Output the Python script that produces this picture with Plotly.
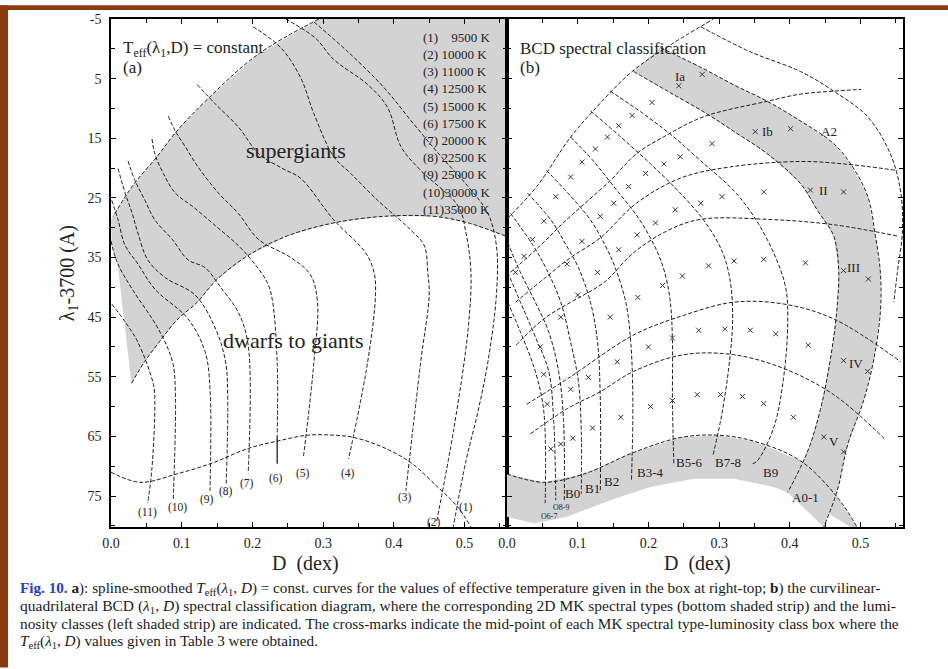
import plotly.graph_objects as go

W, H = 948, 669
SERIF = "Liberation Serif"
GRAY = "#d3d3d3"
INK = "#1e1e1e"
DASH = "4px,2px"

# ---------------------------------------------------------------------------
# Panel (a): spline-smoothed T_eff(lambda1, D) = const curves
# every point is (D [dex], lambda1 - 3700 [A])
# ---------------------------------------------------------------------------
teff_values = [9500, 10000, 11000, 12500, 15000, 17500, 20000, 22500, 25000, 30000, 35000]

teff_01 = [(0.287, -4.5), (0.335, 0.5), (0.386, 6.5), (0.428, 12.6), (0.467, 18.1), (0.505, 23.1),
           (0.533, 27.6), (0.545, 33.0), (0.545, 41.3), (0.533, 52.5), (0.519, 60.8), (0.502, 69.1),
           (0.484, 80.2)]
teff_02 = [(0.247, -5.0), (0.289, -1.8), (0.315, 1.8), (0.363, 6.0), (0.391, 9.8), (0.410, 16.4),
           (0.438, 20.4), (0.491, 26.4), (0.502, 30.9), (0.509, 37.5), (0.505, 47.0), (0.485, 63.6),
           (0.460, 79.6)]
teff_03 = [(0.201, -3.7), (0.240, -0.2), (0.268, 4.8), (0.287, 10.9), (0.315, 18.1), (0.339, 20.9),
           (0.377, 25.4), (0.424, 30.4), (0.443, 33.0), (0.448, 37.5), (0.450, 41.3), (0.438, 52.5),
           (0.417, 74.1)]
teff_04 = [(0.122, 6.0), (0.148, 9.3), (0.180, 13.1), (0.209, 17.6), (0.243, 20.1), (0.268, 21.7),
           (0.315, 28.7), (0.360, 34.2), (0.372, 37.5), (0.374, 41.3), (0.363, 52.5), (0.336, 68.8)]
teff_05 = [(0.081, 11.3), (0.091, 13.8), (0.105, 16.4), (0.123, 19.8), (0.152, 24.2), (0.180, 27.6),
           (0.209, 32.0), (0.254, 35.0), (0.282, 37.9), (0.292, 42.5), (0.287, 52.5), (0.272, 68.6)]
teff_06 = [(0.058, 15.1), (0.062, 17.6), (0.074, 20.9), (0.091, 24.2), (0.115, 26.4), (0.148, 29.7),
           (0.180, 33.0), (0.204, 36.2), (0.221, 39.2), (0.228, 42.0), (0.235, 52.5), (0.235, 65.0)]
# the lowest stretch of curve (6) is printed as a solid stroke
teff_06_solid = [(0.235, 65.0), (0.235, 69.6)]
teff_07 = [(0.024, 18.8), (0.034, 22.1), (0.048, 25.4), (0.062, 28.7), (0.087, 32.0), (0.109, 35.4),
           (0.133, 36.7), (0.155, 40.0), (0.180, 44.2), (0.194, 49.7), (0.194, 71.2)]
teff_08 = [(0.010, 20.1), (0.020, 24.2), (0.030, 27.6), (0.038, 30.9), (0.052, 35.4), (0.077, 38.4),
           (0.119, 41.3), (0.148, 47.0), (0.162, 52.5), (0.165, 58.0), (0.163, 72.9)]
teff_09 = [(0.001, 25.4), (0.010, 28.7), (0.020, 33.0), (0.037, 35.9), (0.062, 40.3), (0.109, 45.3),
           (0.133, 50.8), (0.140, 57.0), (0.140, 74.1)]
teff_10 = [(0.000, 32.2), (0.009, 35.9), (0.030, 40.3), (0.067, 47.0), (0.087, 52.5), (0.091, 57.5),
           (0.088, 75.7)]
teff_11 = [(0.001, 42.8), (0.020, 45.8), (0.038, 49.2), (0.060, 56.3), (0.062, 59.1), (0.058, 70.2),
           (0.052, 76.2)]
teff_curves = [teff_01, teff_02, teff_03, teff_04, teff_05, teff_06,
               teff_07, teff_08, teff_09, teff_10, teff_11]

# positions of the (n) tags at the lower end of each curve
teff_tags = [(0.502, 76.9), (0.457, 79.4), (0.416, 75.2), (0.335, 71.2), (0.272, 71.2), (0.233, 72.1),
             (0.193, 72.9), (0.163, 74.2), (0.136, 75.6), (0.094, 76.9), (0.052, 77.7)]

# supergiant band of panel (a)
sg_upper = [(0.294, -5.0), (0.207, 1.0), (0.136, 8.5), (0.093, 13.8), (0.065, 18.1), (0.031, 22.9),
            (0.003, 28.1)]
sg_left_edge = [(0.000, 28.6), (0.001, 33.0), (0.009, 35.9), (0.029, 56.1)]
sg_lower = [(0.029, 56.1), (0.048, 52.4), (0.070, 48.9), (0.093, 45.5), (0.122, 42.5), (0.148, 38.9),
            (0.192, 34.8), (0.249, 31.4), (0.315, 29.2), (0.386, 28.1), (0.457, 28.1), (0.505, 29.2),
            (0.560, 31.5)]

# lower envelope (main-sequence limit) in panel (a)
zams_a = [(0.000, 71.0), (0.041, 72.7), (0.093, 71.3), (0.145, 69.4), (0.192, 67.1), (0.235, 65.8),
          (0.278, 64.8), (0.315, 64.8), (0.344, 65.2), (0.386, 66.9), (0.424, 69.4), (0.462, 73.5),
          (0.490, 76.8), (0.509, 80.2)]

# ---------------------------------------------------------------------------
# Panel (b): BCD curvilinear-quadrilateral classification grid
# ---------------------------------------------------------------------------
zams_b = [(0.000, 71.3), (0.052, 72.7), (0.109, 71.3), (0.179, 67.7), (0.245, 65.2), (0.297, 64.8),
          (0.349, 65.8), (0.415, 69.1), (0.467, 75.2), (0.495, 80.2)]
strip_lower = [(0.000, 78.5), (0.038, 79.6), (0.085, 78.5), (0.146, 75.7), (0.203, 73.5), (0.264, 72.1),
               (0.321, 72.1), (0.377, 73.5), (0.425, 75.7), (0.462, 78.5), (0.486, 80.2)]

# spectral-type boundaries (left to right)
sp_o_left = [(0.001, 42.5), (0.019, 47.5), (0.040, 54.1), (0.052, 60.8), (0.054, 76.2)]
sp_o67_o89 = [(0.001, 37.5), (0.019, 42.5), (0.040, 48.3), (0.059, 54.1), (0.066, 62.4), (0.069, 75.7)]
sp_o89_b0 = [(0.001, 32.5), (0.019, 37.5), (0.040, 42.5), (0.059, 47.5), (0.073, 54.1), (0.080, 62.4),
             (0.081, 75.7)]
sp_b0_b1 = [(0.005, 27.6), (0.037, 33.0), (0.056, 37.0), (0.076, 42.5), (0.090, 49.2), (0.101, 55.8),
            (0.105, 64.1), (0.105, 74.6)]
sp_b1_b2 = [(0.029, 24.2), (0.062, 28.7), (0.084, 33.0), (0.101, 36.7), (0.118, 42.5), (0.128, 49.2),
            (0.132, 59.1), (0.132, 74.1)]
sp_b2_b34 = [(0.056, 20.4), (0.090, 24.7), (0.118, 28.7), (0.139, 33.0), (0.153, 36.7), (0.168, 42.5),
             (0.175, 49.2), (0.178, 59.1), (0.176, 72.4)]
sp_b34_b56 = [(0.090, 14.8), (0.122, 18.8), (0.153, 23.4), (0.186, 28.4), (0.210, 33.4), (0.223, 37.5),
              (0.231, 42.5), (0.234, 49.2), (0.234, 59.1), (0.236, 69.9)]
sp_b56_b78 = [(0.118, 10.4), (0.161, 14.8), (0.203, 19.3), (0.245, 24.2), (0.281, 29.2), (0.305, 34.2),
              (0.316, 39.2), (0.319, 45.8), (0.313, 54.1), (0.302, 62.4), (0.291, 68.3)]
sp_b78_b9 = [(0.146, 7.1), (0.193, 10.9), (0.236, 14.8), (0.274, 18.8), (0.320, 23.7), (0.349, 28.1),
             (0.377, 34.2), (0.394, 40.0), (0.397, 45.8), (0.391, 55.3), (0.377, 63.6), (0.354, 69.1),
             (0.347, 69.6)]
sp_b9_a0 = [(0.179, 3.8), (0.227, 7.1), (0.284, 11.0), (0.320, 13.8), (0.368, 17.6), (0.415, 22.6),
            (0.439, 27.1), (0.462, 31.4), (0.469, 37.0), (0.467, 43.0), (0.460, 50.0), (0.446, 59.1),
            (0.429, 66.3), (0.415, 70.2), (0.397, 74.4)]
sp_a01_a2 = [(0.217, -0.2), (0.274, 3.1), (0.320, 6.0), (0.368, 8.8), (0.415, 12.1), (0.462, 15.9),
             (0.486, 19.3), (0.510, 24.7), (0.521, 31.4), (0.528, 37.5), (0.528, 44.2), (0.518, 52.5),
             (0.504, 59.1), (0.482, 66.3), (0.467, 74.1), (0.448, 80.2)]
sp_a2_outer = [(0.274, -3.7), (0.344, 0.5), (0.415, 3.8), (0.462, 7.1), (0.510, 11.4), (0.542, 17.6),
               (0.557, 24.2), (0.559, 30.9), (0.552, 37.5), (0.547, 42.5)]
spectral_bounds = [sp_o_left, sp_o67_o89, sp_o89_b0, sp_b0_b1, sp_b1_b2, sp_b2_b34, sp_b34_b56,
                   sp_b56_b78, sp_b78_b9, sp_b9_a0, sp_a01_a2, sp_a2_outer]

# luminosity-class boundaries (top to bottom)
lum_top = [(0.001, 28.4), (0.042, 23.1), (0.090, 14.8), (0.122, 10.4), (0.175, 4.0), (0.221, 0.1),
           (0.292, -5.0)]
lum_ia_ib = [(0.005, 37.5), (0.047, 33.0), (0.084, 28.7), (0.146, 22.1), (0.183, 17.6), (0.221, 14.8),
             (0.278, 11.4), (0.368, 8.8), (0.415, 7.6), (0.462, 7.1), (0.501, 6.8)]
lum_ib_ii = [(0.012, 42.5), (0.054, 38.4), (0.090, 35.0), (0.132, 31.7), (0.183, 25.9), (0.245, 21.7),
             (0.316, 19.8), (0.415, 18.9), (0.476, 19.3), (0.552, 20.4)]
lum_ii_iii = [(0.013, 49.7), (0.052, 45.3), (0.090, 42.5), (0.137, 39.2), (0.179, 34.2), (0.227, 30.5),
              (0.274, 28.6), (0.368, 28.6), (0.462, 29.5), (0.552, 31.4)]
lum_iii_iv = [(0.028, 59.6), (0.086, 55.3), (0.179, 48.0), (0.250, 44.7), (0.320, 42.5), (0.391, 42.8),
              (0.462, 45.3), (0.557, 52.5)]
lum_iv_v = [(0.033, 64.6), (0.086, 60.3), (0.132, 57.5), (0.179, 54.1), (0.250, 51.3), (0.320, 51.3),
            (0.391, 53.6), (0.462, 58.0), (0.533, 65.3)]
luminosity_bounds = [lum_top, lum_ia_ib, lum_ib_ii, lum_ii_iii, lum_iii_iv, lum_iv_v]

# cross-marks: mid-points of the MK type / luminosity-class boxes
marks_ia = [(0.276, 4.3), (0.243, 6.2), (0.205, 9.0), (0.177, 11.2), (0.158, 12.9), (0.142, 14.8),
            (0.125, 16.8), (0.106, 19.0), (0.090, 21.5), (0.069, 24.8), (0.052, 28.9), (0.036, 32.0),
            (0.024, 34.8), (0.012, 37.5)]
marks_ib = [(0.401, 13.4), (0.351, 13.9), (0.290, 15.9), (0.245, 18.1), (0.222, 19.3), (0.196, 20.9),
            (0.172, 23.1), (0.151, 25.9), (0.132, 28.1), (0.106, 32.3), (0.085, 36.1)]
marks_ii = [(0.476, 24.0), (0.429, 23.7), (0.363, 24.0), (0.304, 24.8), (0.274, 25.9), (0.238, 27.0),
            (0.210, 29.2), (0.184, 31.2), (0.158, 33.7), (0.128, 37.5)]
marks_iii = [(0.511, 38.6), (0.476, 37.2), (0.422, 35.9), (0.363, 35.3), (0.321, 35.6), (0.285, 36.4),
             (0.248, 38.1), (0.220, 39.7), (0.185, 41.7), (0.146, 45.0), (0.100, 41.3), (0.076, 45.0)]
marks_iv = [(0.510, 54.1), (0.476, 52.3), (0.426, 49.7), (0.380, 47.8), (0.344, 47.2), (0.308, 47.0),
            (0.271, 47.2), (0.234, 48.5), (0.200, 50.0), (0.156, 52.5), (0.115, 55.1), (0.090, 57.1),
            (0.047, 50.0), (0.052, 54.6), (0.057, 59.6)]
marks_v = [(0.476, 67.6), (0.448, 65.1), (0.405, 61.8), (0.363, 59.5), (0.333, 58.3), (0.302, 58.0),
           (0.269, 58.0), (0.234, 59.0), (0.203, 60.0), (0.161, 61.8), (0.121, 63.6), (0.093, 65.3),
           (0.076, 66.3), (0.062, 67.1)]
box_marks = marks_ia + marks_ib + marks_ii + marks_iii + marks_iv + marks_v

lum_class_names = ["Ia", "Ib", "A2", "II", "III", "IV", "V"]
lum_class_pos = [(0.245, 4.6), (0.368, 13.8), (0.455, 13.8), (0.448, 23.7), (0.490, 36.7),
                 (0.493, 52.8), (0.462, 65.8)]
sp_type_names = ["B0", "B1", "B2", "B3-4", "B5-6", "B7-8", "B9", "A0-1"]
sp_type_pos = [(0.093, 74.6), (0.121, 73.7), (0.148, 72.6), (0.203, 71.1), (0.258, 69.4),
               (0.313, 69.4), (0.373, 71.1), (0.422, 75.2)]
o_type_names = ["O8-9", "O6-7"]
o_type_pos = [(0.076, 76.9), (0.059, 78.4)]

x_ticks = [0.0, 0.1, 0.2, 0.3, 0.4, 0.5]
y_ticks = [-5, 5, 15, 25, 35, 45, 55, 65, 75]

# ---------------------------------------------------------------------------
fig = go.Figure()


def xs(pts):
    return [p[0] for p in pts]


def ys(pts):
    return [p[1] for p in pts]


def stroke(pts, xa, ya, dash=DASH, width=1.0):
    fig.add_trace(go.Scatter(x=xs(pts), y=ys(pts), xaxis=xa, yaxis=ya, mode="lines",
                             line=dict(color=INK, width=width, dash=dash, shape="spline", smoothing=1.0),
                             hoverinfo="skip", showlegend=False))


def filled(pts, xa, ya):
    fig.add_trace(go.Scatter(x=xs(pts), y=ys(pts), xaxis=xa, yaxis=ya, mode="lines", fill="toself",
                             fillcolor=GRAY, line=dict(width=0, color=GRAY),
                             hoverinfo="skip", showlegend=False))


# --- panel (a) ---
sg_poly = sg_upper + sg_left_edge + sg_lower + [(0.56, -5.0)]
filled(sg_poly, "x", "y")
stroke(sg_upper, "x", "y")
stroke(sg_lower, "x", "y")
stroke(zams_a, "x", "y")
for curve in teff_curves:
    stroke(curve, "x", "y")
stroke(teff_06_solid, "x", "y", dash="solid", width=1.3)

# --- panel (b) ---
strip_poly = zams_b + strip_lower[::-1]
filled(strip_poly, "x2", "y2")
band_poly = sp_b9_a0 + sp_a01_a2[::-1]
filled(band_poly, "x2", "y2")
stroke(zams_b, "x2", "y2")
for curve in spectral_bounds + luminosity_bounds:
    stroke(curve, "x2", "y2")
fig.add_trace(go.Scatter(x=xs(box_marks), y=ys(box_marks), xaxis="x2", yaxis="y2", mode="markers",
                         marker=dict(symbol="x-thin", size=5, line=dict(width=1, color="#333333")),
                         hoverinfo="skip", showlegend=False))

# ---------------------------------------------------------------------------
ann = []


def label(text, x, y, xref, yref, size, xanchor="center", yanchor="middle", color="#222222", angle=0):
    ann.append(dict(text=text, x=x, y=y, xref=xref, yref=yref, showarrow=False, xanchor=xanchor,
                    yanchor=yanchor, textangle=angle, font=dict(family=SERIF, size=size, color=color)))


label("T<sub>eff</sub>(λ<sub>1</sub>,D) = constant", 0.014, 0.0, "x", "y", 17, xanchor="left")
label("(a)", 0.014, 3.1, "x", "y", 17, xanchor="left")
label("supergiants", 0.261, 17.1, "x", "y", 22)
label("dwarfs to giants", 0.258, 49.0, "x", "y", 22)
for i, t in enumerate(teff_values):
    tag = f"({i + 1})"
    spacer = "\u2002\u2002" if i == 0 else ("" if i >= 9 else " ")
    label(f"{tag}{spacer}{t} K", 0.438, -1.96 + 2.89 * i, "x", "y", 13, xanchor="left")
for i, (px_, py_) in enumerate(teff_tags):
    label(f"({i + 1})", px_, py_, "x", "y", 11.5)

label("BCD spectral classification", 0.015, 0.0, "x2", "y2", 17, xanchor="left")
label("(b)", 0.015, 3.1, "x2", "y2", 17, xanchor="left")
for name, (px_, py_) in zip(lum_class_names, lum_class_pos):
    label(name, px_, py_, "x2", "y2", 13)
for name, (px_, py_) in zip(sp_type_names, sp_type_pos):
    label(name, px_, py_, "x2", "y2", 13)
for name, (px_, py_) in zip(o_type_names, o_type_pos):
    label(name, px_, py_, "x2", "y2", 8)

# axis titles
label("λ<sub>1</sub>-3700 (A)", -0.054, 0.50, "paper", "paper", 20, angle=-90)
label("D  (dex)", (305 - 111) / 792, 1 - (564 - 14) / 513, "paper", "paper", 20)
label("D  (dex)", (697 - 111) / 792, 1 - (564 - 14) / 513, "paper", "paper", 20)

# caption
cap_lines = [
    "<span style='color:#2a40c8'><b>Fig. 10.</b></span> <b>a</b>): spline-smoothed <i>T</i><sub>eff</sub>(<i>λ</i><sub>1</sub>, <i>D</i>) = const. curves for the values of effective temperature given in the box at right-top; <b>b</b>) the curvilinear-",
    "quadrilateral BCD (<i>λ</i><sub>1</sub>, <i>D</i>) spectral classification diagram, where the corresponding 2D MK spectral types (bottom shaded strip) and the lumi-",
    "nosity classes (left shaded strip) are indicated. The cross-marks indicate the mid-point of each MK spectral type-luminosity class box where the",
    "<i>T</i><sub>eff</sub>(<i>λ</i><sub>1</sub>, <i>D</i>) values given in Table 3 were obtained.",
]
cap_py = [589, 607, 625, 643]
cap_size = [15.2, 15.5, 15.3, 15.2]
for line, py, fs in zip(cap_lines, cap_py, cap_size):
    label(line, (18 - 111) / 792, 1 - (py - 14) / 513, "paper", "paper", fs, xanchor="left",
          color="#1a1a1a")

# brown frame of the page
frame = "#8a3a0e"
shapes = [
    dict(type="rect", xref="paper", yref="paper", x0=-111 / 792, x1=(8 - 111) / 792, y0=1 - (669 - 14) / 513,
         y1=1 + 14 / 513, fillcolor=frame, line=dict(width=0), layer="above"),
    dict(type="rect", xref="paper", yref="paper", x0=-111 / 792, x1=(948 - 111) / 792, y0=1 + 9 / 513,
         y1=1 + 14 / 513, fillcolor=frame, line=dict(width=0), layer="above"),
]

axis_common = dict(showgrid=False, zeroline=False, showline=True, linecolor="black", linewidth=1.5,
                   mirror="ticks", ticks="inside", ticklen=5, tickwidth=1.2, tickcolor="black",
                   tickfont=dict(family=SERIF, size=14, color="#222222"))

fig.update_layout(
    width=W, height=H, margin=dict(l=111, r=45, t=14, b=142),
    paper_bgcolor="white", plot_bgcolor="white", showlegend=False,
    xaxis=dict(domain=[0, 0.5], range=[0, 0.56], tickvals=x_ticks, ticktext=[f"{v:.1f}" for v in x_ticks],
               anchor="y", minor=dict(dtick=0.05, ticklen=4, ticks="inside", tickcolor="black"),
               ticklabelstandoff=2, **axis_common),
    xaxis2=dict(domain=[0.5, 1], range=[0, 0.56], tickvals=x_ticks, ticktext=[f"{v:.1f}" for v in x_ticks],
                anchor="y2", minor=dict(dtick=0.05, ticklen=4, ticks="inside", tickcolor="black"),
                ticklabelstandoff=2, **axis_common),
    yaxis=dict(range=[80.2, -5], tickvals=y_ticks, ticktext=[str(v) for v in y_ticks], anchor="x",
               minor=dict(dtick=5, ticklen=4, ticks="inside", tickcolor="black"),
               ticklabelstandoff=5, **axis_common),
    yaxis2=dict(range=[80.2, -5], tickvals=y_ticks, showticklabels=False, anchor="x2", matches="y",
                minor=dict(dtick=5, ticklen=4, ticks="inside", tickcolor="black"), **axis_common),
    annotations=ann, shapes=shapes,
)

fig.write_html("out.html")
